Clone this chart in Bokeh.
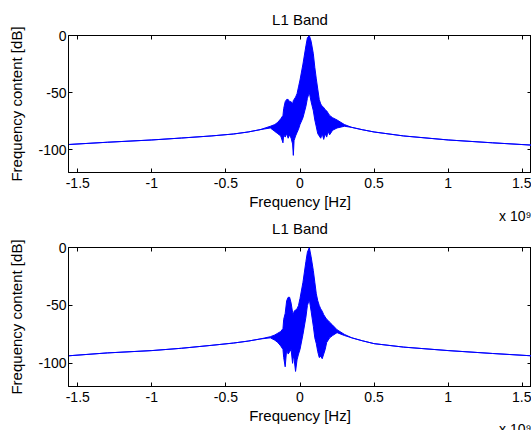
from bokeh.plotting import figure
from bokeh.layouts import column
from bokeh.models import FixedTicker, LinearAxis, Title, Range1d
from bokeh.embed import file_html
from bokeh.resources import INLINE

# ---------------- data (frequency in units of 1e9 Hz, levels in dB) ----------------
freq = [-1.5625, -1.3, -1.0, -0.8, -0.6, -0.45, -0.35, -0.27,
        -0.2, -0.17, -0.15, -0.13, -0.115, -0.11, -0.1, -0.09, -0.08, -0.07, -0.06,
        -0.05, -0.045, -0.04, -0.03, -0.02, -0.01, 0.0,
        0.02, 0.04, 0.05, 0.063, 0.075, 0.09, 0.1, 0.11, 0.12, 0.13, 0.14, 0.15,
        0.16, 0.17, 0.18, 0.19, 0.2, 0.22, 0.25, 0.3,
        0.35, 0.42, 0.5, 0.7, 1.0, 1.3, 1.5625]

top_upper = [-95.5, -93.5, -91.5, -89.8, -88.0, -86.3, -84.5, -82.5,
             -79.5, -78.0, -76.0, -73.0, -70.0, -64.0, -58.0, -56.0, -56.0, -58.0, -58.0,
             -60.0, -57.0, -56.0, -54.0, -51.0, -45.0, -39.0,
             -25.0, -9.0, -2.0, 0.0, -5.0, -16.0, -28.0, -38.0, -47.0, -56.0, -60.0, -62.0,
             -63.0, -65.0, -66.0, -68.0, -70.0, -72.0, -74.0, -78.0,
             -80.5, -82.5, -84.5, -88.0, -91.5, -94.0, -96.0]

top_lower = [-95.5, -93.5, -91.5, -89.8, -88.0, -86.3, -84.5, -82.5,
             -81.0, -84.0, -86.0, -88.0, -94.0, -87.0, -89.0, -86.0, -90.0, -87.0, -90.0,
             -95.0, -105.0, -92.0, -88.0, -85.0, -82.0, -78.0,
             -72.0, -62.0, -55.0, -50.0, -58.0, -66.0, -74.0, -80.0, -86.0, -88.0, -90.0, -86.0,
             -91.0, -86.0, -89.0, -84.0, -87.0, -83.0, -81.0, -79.5,
             -80.5, -82.5, -84.5, -88.0, -91.5, -94.0, -96.0]

bot_upper = [-93.5, -91.0, -89.0, -87.0, -84.5, -82.5, -80.8, -79.0,
             -77.0, -75.5, -74.0, -72.5, -70.0, -62.0, -57.0, -46.0, -43.0, -43.0, -48.0,
             -56.0, -58.0, -55.0, -54.0, -53.0, -50.0, -44.0,
             -30.0, -12.0, -4.0, 0.0, -8.0, -20.0, -30.0, -40.0, -46.0, -50.0, -53.0, -55.0,
             -58.0, -60.0, -62.0, -63.0, -64.5, -67.0, -71.0, -75.0,
             -78.0, -80.5, -83.0, -86.0, -89.0, -91.5, -93.5]

bot_lower = [-93.5, -91.0, -89.0, -87.0, -84.5, -82.5, -80.8, -79.0,
             -78.0, -80.0, -82.0, -85.0, -88.0, -95.0, -103.0, -88.0, -92.0, -90.0, -88.0,
             -100.0, -94.0, -96.0, -107.0, -97.0, -92.0, -88.0,
             -75.0, -60.0, -50.0, -45.0, -55.0, -68.0, -78.0, -83.0, -90.0, -95.0, -94.0, -96.0,
             -92.0, -88.0, -82.0, -80.0, -78.0, -76.0, -73.5, -76.0,
             -78.0, -80.5, -83.0, -86.0, -89.0, -91.5, -93.5]

x_ticks = [-1.5, -1.0, -0.5, 0.0, 0.5, 1.0, 1.5]
x_tick_labels = ["-1.5", "-1", "-0.5", "0", "0.5", "1", "1.5"]
y_ticks = [-100, -50, 0]
y_tick_labels = ["-100", "-50", "0"]
x_limits = (-1.5625, 1.5625)
y_limits = (-120, 0)

title_text = "L1 Band"
x_label = "Frequency [Hz]"
y_label = "Frequency content [dB]"
x_exponent = "x 10\u2079"

FONT = "Liberation Sans"
BLUE = "#0000ff"


def style_axis(ax):
    ax.major_tick_in = 4
    ax.major_tick_out = 0
    ax.minor_tick_line_color = None
    ax.major_tick_line_color = "black"
    ax.axis_line_color = "black"
    ax.major_label_text_font = FONT
    ax.axis_label_text_font = FONT
    ax.axis_label_text_font_style = "normal"
    ax.axis_label_text_color = "black"
    ax.major_label_text_color = "black"


def mirror_axis(ticks):
    ax = LinearAxis(ticker=FixedTicker(ticks=ticks))
    style_axis(ax)
    ax.major_label_overrides = {t: "" for t in ticks}
    ax.major_label_text_font_size = "0px"
    ax.major_label_standoff = 0
    ax.axis_line_color = None
    return ax


def make_title(align, size, standoff, text):
    return Title(text=text, align=align, text_font=FONT, text_font_size=size,
                 text_font_style="normal", text_color="black", standoff=standoff)


def make_panel(upper, lower, height, border_top, border_bottom, exp_standoff):
    p = figure(width=531, height=height, output_backend="svg", toolbar_location=None,
               x_range=Range1d(*x_limits), y_range=Range1d(*y_limits),
               min_border_left=68, min_border_right=0,
               min_border_top=border_top, min_border_bottom=border_bottom)
    p.xgrid.visible = False
    p.ygrid.visible = False
    p.outline_line_color = "black"
    p.outline_line_alpha = 1.0
    p.background_fill_color = "white"
    p.border_fill_color = "white"

    p.xaxis.ticker = FixedTicker(ticks=x_ticks)
    p.xaxis.major_label_overrides = dict(zip(x_ticks, x_tick_labels))
    p.yaxis.ticker = FixedTicker(ticks=y_ticks)
    p.yaxis.major_label_overrides = dict(zip(y_ticks, y_tick_labels))
    p.xaxis.axis_label = x_label
    p.yaxis.axis_label = y_label
    for ax in (p.xaxis[0], p.yaxis[0]):
        style_axis(ax)
        ax.major_label_text_font_size = "14px"
        ax.axis_label_text_font_size = "15px"
    p.xaxis.major_label_standoff = 5
    p.xaxis.axis_label_standoff = 2
    p.yaxis.major_label_standoff = 2
    p.yaxis.axis_label_standoff = 10

    p.add_layout(mirror_axis(x_ticks), "above")
    p.add_layout(mirror_axis(y_ticks), "right")

    p.varea(x=freq, y1=lower, y2=upper, fill_color=BLUE, fill_alpha=1.0)
    p.line(freq, upper, line_color=BLUE, line_width=1)
    p.line(freq, lower, line_color=BLUE, line_width=1)

    # "x 10^9" exponent note, right-aligned under the x axis
    p.add_layout(make_title("right", "14px", exp_standoff, x_exponent), "below")
    return p


# upper panel: its own title above; the lower panel's title sits in its bottom margin
p1 = make_panel(top_upper, top_lower, 236, 34, 62, -13)
p1.add_layout(make_title("center", "15px", 16, title_text), "above")
p1.add_layout(make_title("center", "15px", 0, title_text), "below")

p2 = make_panel(bot_upper, bot_lower, 194, 11, 44, -15)

layout = column(p1, p2, spacing=0)

open("out.html", "w").write(file_html(layout, INLINE))
